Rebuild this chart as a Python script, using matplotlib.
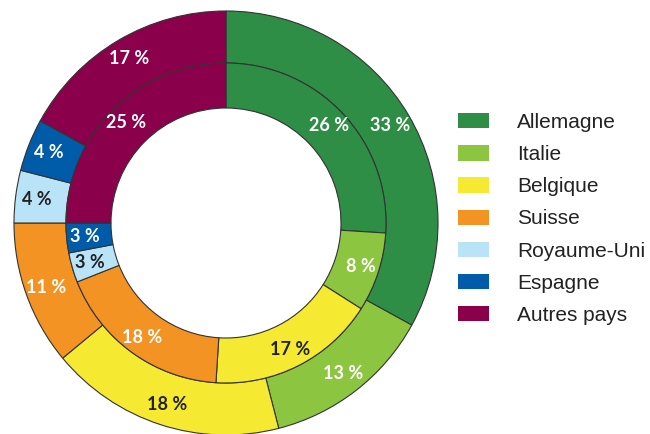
import numpy as np
import matplotlib
matplotlib.use("Agg")
import matplotlib.pyplot as plt
from matplotlib.patches import Patch

countries = ["Allemagne", "Italie", "Belgique", "Suisse", "Royaume-Uni", "Espagne", "Autres pays"]
outer_pct = [33, 13, 18, 11, 4, 4, 17]
inner_pct = [26, 8, 17, 18, 3, 3, 25]
colors = ["#2e8e45", "#8cc540", "#f5ea31", "#f39324", "#b9e4f8", "#005ba9", "#8a004b"]
label_colors = ["white", "white", "#222222", "white", "#222222", "white", "white"]

fig = plt.figure(figsize=(6.5, 4.34), dpi=100)

# pixel geometry of the reference: centre (226, 223), outer radius 212 px
cx, cy, R = 226, 223, 212
lim = 1.05
half = lim * R
ax = fig.add_axes([(cx - half) / 650, (434 - cy - half) / 434, 2 * half / 650, 2 * half / 434])

edge = dict(edgecolor="#333333", linewidth=0.8)
r_mid = 160 / R
r_hole = 115 / R

label_font = dict(family="Lato", weight="bold", size=13)

_, _, outer_txt = ax.pie(outer_pct, radius=1, colors=colors, startangle=90, counterclock=False,
                         wedgeprops=dict(width=1 - r_mid, **edge),
                         autopct=lambda p: f"{p:.0f} %", pctdistance=0.9,
                         textprops=label_font)
_, _, inner_txt = ax.pie(inner_pct, radius=r_mid, colors=colors, startangle=90, counterclock=False,
                         wedgeprops=dict(width=r_mid - r_hole, **edge),
                         autopct=lambda p: f"{p:.0f} %", pctdistance=(142 / R) / r_mid,
                         textprops=label_font)

for t, c in zip(outer_txt, label_colors):
    t.set_color(c)
for t, c in zip(inner_txt, label_colors):
    t.set_color(c)

ax.set_xlim(-lim, lim)
ax.set_ylim(-lim, lim)
ax.set_aspect("equal")
ax.axis("off")

handles = [Patch(facecolor=c, edgecolor="none") for c in colors]
fig.legend(handles, countries, loc="center left", bbox_to_anchor=(458 / 650, 1 - 219 / 434),
           frameon=False, borderpad=0, borderaxespad=0, handlelength=1.5, handleheight=0.75,
           handletextpad=1.35, labelspacing=0.63,
           prop=dict(family="Liberation Sans", size=15), labelcolor="#222222")

fig.savefig("out.png", dpi=100)
